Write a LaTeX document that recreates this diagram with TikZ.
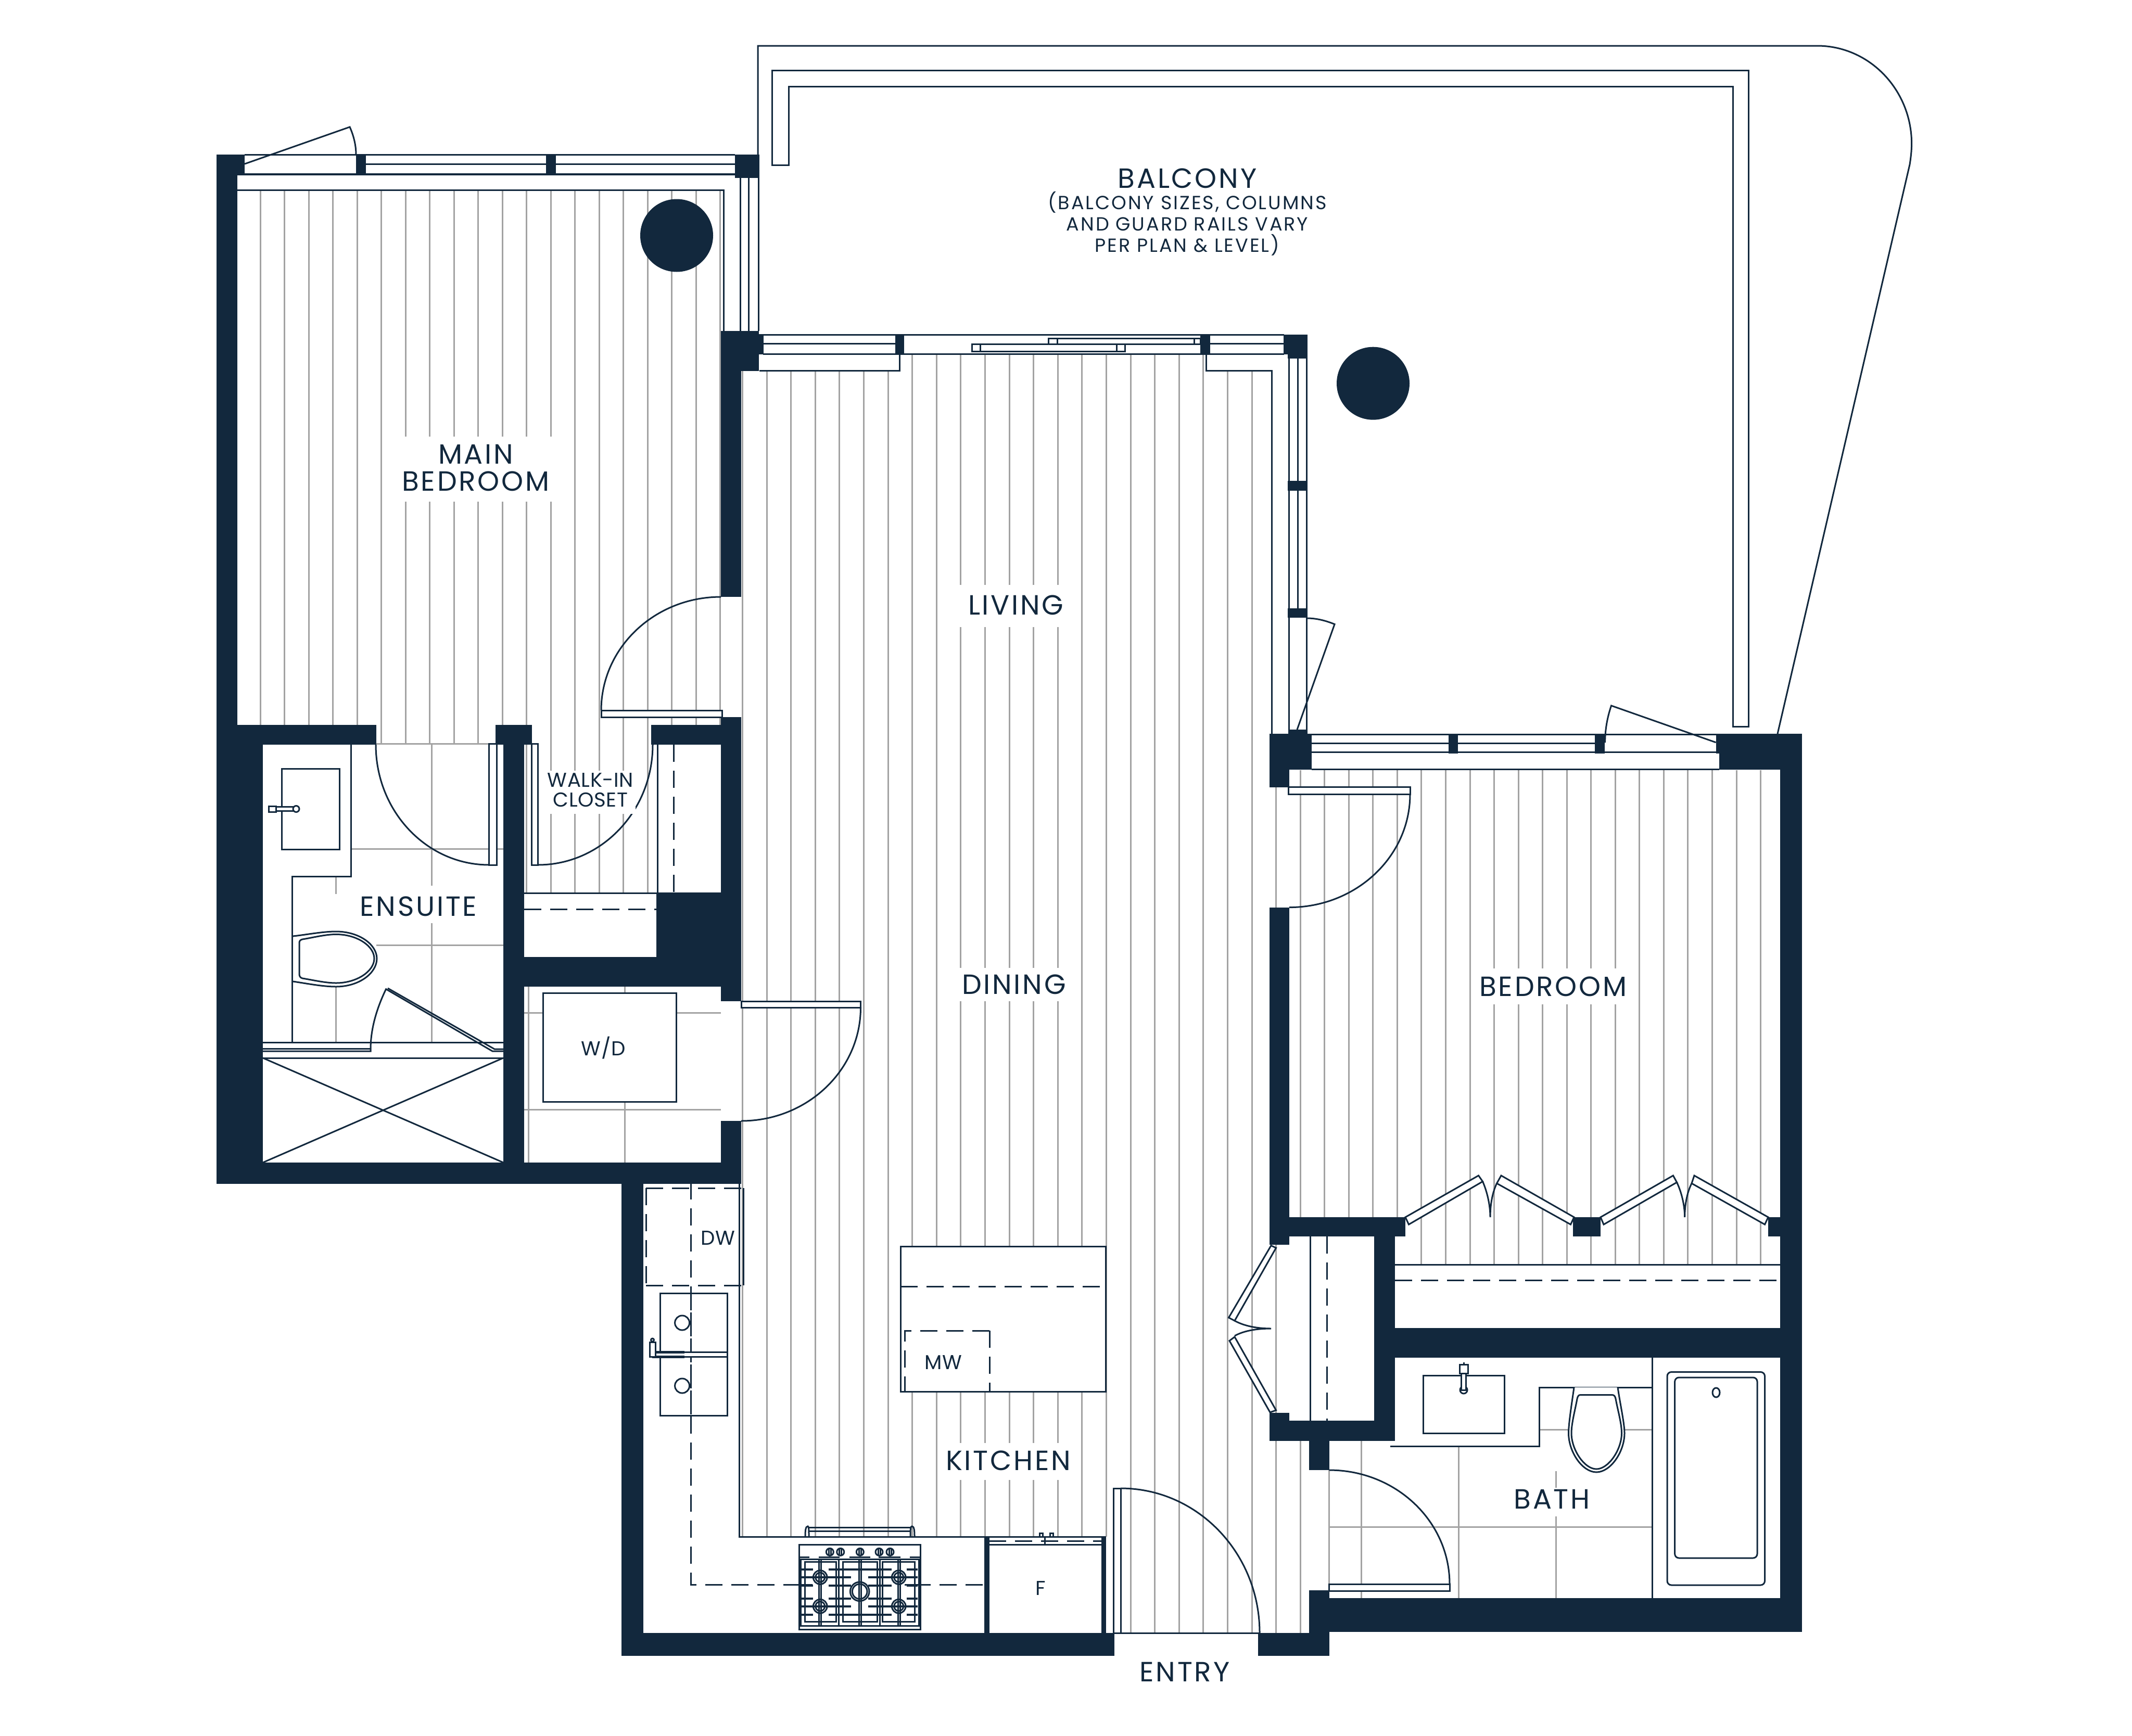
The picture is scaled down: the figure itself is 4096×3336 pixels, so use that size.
\documentclass[tikz,border=0pt]{standalone}
\usepackage{fontspec}
\setmainfont{Poppins}
\newfontfamily\roomfont{Poppins}[LetterSpace=7]
\newfontfamily\notefont{Poppins}[LetterSpace=8]
\newfontfamily\smallfont{Poppins}[LetterSpace=1.5]
\usetikzlibrary{calc}
\definecolor{wallblue}{HTML}{12283D}
\definecolor{woodgray}{HTML}{A3A3A3}
\tikzset{
	wall/.style={fill=wallblue},
	plan/.style={draw=wallblue,line width=0.03cm},
	tine/.style={draw=wallblue,line width=0.04cm},
	wood/.style={draw=woodgray,line width=0.03cm},
	leaf/.style={draw=wallblue,fill=white,line width=0.03cm},
	dashline/.style={draw=wallblue,line width=0.03cm,dash pattern=on 0.33cm off 0.17cm},
	roomlbl/.style={text=wallblue,inner sep=0pt,align=center,font=\roomfont\fontsize{15.2}{14.8}\selectfont},
	smalllbl/.style={text=wallblue,inner sep=0pt,align=center,font=\smallfont\fontsize{11}{10.6}\selectfont},
	notelbl/.style={text=wallblue,inner sep=0pt,align=center,font=\notefont\fontsize{10.4}{11.7}\selectfont}
}
%quarter swing, horizontal tangent at the first point, vertical at the second
\newcommand{\doorarc}[4]{\draw[plan] (#1,#2) .. controls ($(#1,#2)!0.5523!(#3,#2)$) and ($(#3,#4)!0.5523!(#3,#2)$) .. (#3,#4);}
\begin{document}
\begin{tikzpicture}[x=0.01cm,y=-0.01cm]
	\useasboundingbox (0,0) rectangle (4096,3336);

	%main bedroom boards
	\foreach \k in {0,...,4,10,17,18,19}
		\draw[wood] ({500.3+46.5*\k},366)--({500.3+46.5*\k},1393);
	\foreach \k in {5,...,9}
		\draw[wood] ({500.3+46.5*\k},366)--({500.3+46.5*\k},1429);
	\foreach \k in {11,...,16}
		\draw[wood] ({500.3+46.5*\k},366)--({500.3+46.5*\k},1716);
	\fill[white] (773,839) rectangle (1063,964);

	%living boards
	\foreach \k in {0,...,6}
		\draw[wood] ({1426.4+46.6*\k},712)--({1426.4+46.6*\k},2953);
	\foreach \k in {7,...,15}
		\draw[wood] ({1426.4+46.6*\k},681)--({1426.4+46.6*\k},2953);
	\foreach \k in {16,...,19}
		\draw[wood] ({1426.4+46.6*\k},681)--({1426.4+46.6*\k},3138);
	\foreach \k in {20,21}
		\draw[wood] ({1426.4+46.6*\k},712)--({1426.4+46.6*\k},3138);
	\draw[wood] (2451.6,1513)--(2451.6,3138);
	\draw[wood] (2498.2,2768)--(2498.2,3138);
	\fill[white] (1844,1124) rectangle (2040,1205);
	\fill[white] (1844,1860) rectangle (2040,1924);
	\fill[white] (1840,2773) rectangle (2040,2844);

	%bedroom boards
	\foreach \k in {1,...,5}
		\draw[wood] ({2451.6+46.55*\k},1480)--({2451.6+46.55*\k},2339);
	\foreach \k in {6,...,20}
		\draw[wood] ({2451.6+46.55*\k},1480)--({2451.6+46.55*\k},2430);
	\fill[white] (2865,1861) rectangle (3110,1930);

	%tiles
	\draw[wood] (723,1429)--(952,1429);
	\draw[wood] (674,1631.5)--(967,1631.5);
	\draw[wood] (723,1816)--(967,1816);
	\draw[wood] (829,1431)--(829,1702);
	\draw[wood] (829,1774)--(829,2003);
	\draw[wood] (645,1684)--(645,1718);
	\draw[wood] (645,1896)--(645,2003);
	\draw[wood] (1007,1946)--(1043,1946);
	\draw[wood] (1299,1946)--(1385,1946);
	\draw[wood] (1007,2132)--(1385,2132);
	\draw[wood] (1015,1896)--(1015,2234);
	\draw[wood] (1200,1896)--(1200,1908);
	\draw[wood] (1200,2117)--(1200,2234);
	\draw[wood] (2553,2825)--(2553,3044);
	\draw[wood] (2615.7,2768)--(2615.7,3071);
	\draw[wood] (2802,2779)--(2802,3071);
	\draw[wood] (2989,2827)--(2989,2859);
	\draw[wood] (2989,2914)--(2989,3071);
	\draw[wood] (2957,2747.4)--(3014,2747.4);
	\draw[wood] (3121,2747.4)--(3174,2747.4);
	\draw[wood] (2553,2934)--(3174,2934);

	%balcony
	\draw[plan] (1456,297)--(1456,88)--(3491,88) .. controls (3592.6,88) and (3672.6,174) .. (3672.6,276) .. controls (3672.6,290) and (3671,303) .. (3669,316)--(3415,1410);
	\draw[plan] (1483.6,317)--(1483.6,135.7)--(3359,135.7)--(3359,1396)--(3329,1396)--(3329,166.3)--(1515,166.3)--(1515,317)--cycle;

	%windows
	\draw[plan] (470,297)--(1412,297);
	\draw[plan] (703,315)--(1412,315);
	\draw[plan] (470,334)--(1412,334);
	\draw[plan] (456,335)--(1412,335);
	\draw[plan] (456,365)--(1390,365)--(1390,636);
	\draw[plan] (1422,342)--(1422,636);
	\draw[plan] (1438,342)--(1438,636);
	\draw[plan] (1457,297)--(1457,636);
	\draw[plan] (1466,643.4)--(2467,643.4);
	\draw[plan] (1466,660.7)--(1720,660.7);
	\draw[plan] (2325,660.7)--(2467,660.7);
	\draw[plan] (1466,680)--(2467,680);
	\draw[plan] (1459,712)--(1728,712)--(1728,680);
	\draw[plan] (2317,681)--(2317,712)--(2443.5,712)--(2443.5,1410);
	\draw[leaf] (2014,650) rectangle (2306,661);
	\draw[plan] (2031,650)--(2031,661);
	\draw[plan] (2294,650)--(2294,661);
	\draw[leaf] (1867,661) rectangle (2161,675);
	\draw[plan] (1883,661)--(1883,675);
	\draw[plan] (2145,661)--(2145,675);
	\draw[plan] (2476,689)--(2476,1410);
	\draw[plan] (2493,689)--(2493,1169);
	\draw[plan] (2510.5,689)--(2510.5,1410);
	\draw[plan] (2520,1411)--(3296.5,1411);
	\draw[plan] (2520,1428)--(3083,1428);
	\draw[plan] (2520,1445.7)--(3296.5,1445.7);
	\draw[plan] (2520,1478.5)--(3303,1478.5);

	%window doors
	\draw[plan] (470,315)--(672,244) .. controls (680,262) and (684,280) .. (684,297);
	\draw[plan] (2511,1188) .. controls (2530,1188) and (2548,1193) .. (2564,1199.5)--(2492,1402);
	\draw[plan] (3083.6,1427) .. controls (3083.6,1402) and (3088,1378) .. (3095.6,1356)--(3296.5,1426.7);

	%columns
	\fill[wall] (1300,452.5) circle (70);
	\fill[wall] (2638,736.7) circle (70);

	%ensuite
	\draw[plan] (674,1431)--(674,1684)--(561,1684)--(561,2003);
	\draw[plan] (541,1477) rectangle (652.5,1632);
	\draw[leaf] (566,1550) rectangle (530,1558);
	\draw[leaf] (516,1549) rectangle (530,1560);
	\draw[leaf] (569,1554.5) circle (6);
	\draw[plan,fill=white] (563,1799) .. controls (590,1796) and (620,1790) .. (645.5,1790) .. controls (690,1790) and (724,1815) .. (724,1842) .. controls (724,1870) and (690,1896) .. (645.5,1896) .. controls (620,1896) and (590,1890) .. (563,1886);
	\draw[plan] (581,1805) .. controls (600,1802) and (625,1795.5) .. (645.5,1795.5) .. controls (686,1795.5) and (719,1818) .. (719,1842) .. controls (719,1866) and (686,1889) .. (645.5,1889) .. controls (625,1889) and (600,1883) .. (581,1880) .. controls (577,1879) and (575,1876) .. (575,1872)--(575,1812) .. controls (575,1808) and (577,1806) .. (581,1805);
	\draw[plan] (505,2003)--(967,2003);
	\draw[plan] (505,2015)--(712,2015);
	\draw[plan] (505,2020)--(712,2020)--(712,2016) .. controls (712,1975) and (725,1935) .. (741.6,1900.7)--(946,2020)--(967,2020);
	\draw[plan] (745,1899)--(950,2016)--(967,2016);
	\draw[plan] (505,2033)--(967,2033);
	\draw[plan] (505,2033)--(967,2234);
	\draw[plan] (967,2033)--(505,2234);

	%closet and laundry
	\draw[plan] (1007,1716.5)--(1261,1716.5);
	\draw[dashline] (1007,1747)--(1261,1747);
	\draw[plan] (1263.5,1431)--(1263.5,1715);
	\draw[dashline] (1294,1431)--(1294,1715);
	\draw[plan] (1043,1908) rectangle (1299,2117);

	%doors
	\doorarc{1385}{1147}{1155}{1365}
	\doorarc{939.5}{1662}{722}{1431}
	\doorarc{1033.5}{1662}{1254}{1431}
	\doorarc{1424}{2154}{1653.5}{1936}
	\doorarc{2153}{2860}{2420}{3138}
	\doorarc{2553.5}{2825}{2785}{3044}
	\doorarc{2477}{1743.6}{2709}{1526}
	\draw[leaf] (1155,1365) rectangle (1387,1378);
	\draw[leaf] (939.5,1429) rectangle (954,1662);
	\draw[leaf] (1021,1429) rectangle (1033.5,1662);
	\draw[leaf] (1424,1924) rectangle (1653.5,1936);
	\draw[plan] (2139,3138)--(2139,2860)--(2153,2860)--(2153,3138);
	\draw[plan] (2141,3138)--(2420,3138);
	\draw[leaf] (2553,3044) rectangle (2785,3057);
	\draw[leaf] (2475,1512) rectangle (2709,1526);

	%kitchen
	\draw[plan] (1420,2275)--(1420,2953)--(2125,2953);
	\draw[dashline] (1327.5,2272)--(1327.5,3045)--(1891,3045);
	\draw[dashline] (1241,2283)--(1428.5,2283);
	\draw[dashline] (1241,2470)--(1428.5,2470);
	\draw[dashline] (1241,2283)--(1241,2470);
	\draw[plan] (1428.5,2283)--(1428.5,2470);
	\draw[plan] (1268,2485) rectangle (1397.6,2720);
	\draw[dashline] (1327.5,2485)--(1327.5,2720);
	\draw[plan] (1310.6,2542) circle (14);
	\draw[plan] (1310.6,2663) circle (14);
	\draw[leaf] (1253,2598) rectangle (1397.6,2607);
	\draw[plan,line width=0.05cm] (1253,2598)--(1315,2598);
	\draw[plan,line width=0.05cm] (1253,2607)--(1315,2607);
	\draw[leaf] (1248,2579) rectangle (1259,2607);
	\draw[leaf] (1253.5,2575) circle (3);
	\draw[leaf] (1730,2395) rectangle (2124,2674);
	\draw[dashline] (1730,2472.6)--(2124,2472.6);
	\draw[dashline] (1901,2557)--(1738.6,2557)--(1738.6,2674);
	\draw[dashline] (1901,2557)--(1901,2674);

	%range
	\draw[plan] (1553,2935.7)--(1750,2935.7);
	\draw[plan] (1553,2942)--(1750,2942);
	\draw[plan] (1547,2952) .. controls (1547,2940) and (1548,2933) .. (1552,2933) .. controls (1554,2933) and (1554,2940) .. (1554,2952);
	\draw[plan] (1749,2952) .. controls (1749,2940) and (1749,2933) .. (1752,2933) .. controls (1756,2933) and (1757,2940) .. (1757,2952);
	\draw[leaf] (1535,2968) rectangle (1768,3131);
	\foreach \x in {1594.3,1614.7,1652.3,1689,1710}{
		\draw[plan] (\x,2982.3) circle (7);
		\draw[plan] (\x-2,2976)--(\x-2,2988);
		\draw[plan] (\x+2,2976)--(\x+2,2988);
	}
	\draw[plan] (1535,2992)--(1555,2992);
	\draw[plan] (1573,2992)--(1613,2992);
	\draw[plan] (1632,2992)--(1672,2992);
	\draw[plan] (1688,2992)--(1730,2992);
	\draw[plan] (1748,2992)--(1768,2992);
	\draw[plan] (1538,2996) rectangle (1765,3124);
	\draw[plan] (1546.7,3001.7) rectangle (1606,3116.7);
	\draw[plan] (1619,3001.7) rectangle (1685,3116.7);
	\draw[plan] (1695.7,3001.7) rectangle (1757,3116.7);
	\foreach \x in {1573.3,1577.3,1611.7,1650,1654,1690,1725,1729}
		\draw[plan] (\x,2996)--(\x,3124);
	\foreach \y in {3015.7,3103.3}{
		\draw[tine] (1540,\y)--(1561.7,\y);
		\draw[tine] (1591.7,\y)--(1713.3,\y);
		\draw[tine] (1741.7,\y)--(1763.3,\y);
	}
	\foreach \y in {3046.7,3071.7}{
		\draw[tine] (1540,\y)--(1561.7,\y);
		\draw[tine] (1591.7,\y)--(1635,\y);
		\draw[tine] (1668.3,\y)--(1713.3,\y);
		\draw[tine] (1741.7,\y)--(1763.3,\y);
	}
	\foreach \y in {3031,3086.7}{
		\draw[tine] (1540,\y)--(1635,\y);
		\draw[tine] (1668.3,\y)--(1763.3,\y);
	}
	\foreach \x/\y in {1575.7/3031,1575.7/3086.7,1726.7/3031,1726.7/3086.7}{
		\draw[plan] (\x,\y) circle (13.3);
		\draw[plan] (\x,\y) circle (9);
	}
	\draw[plan] (1651.7,3058.3) circle (18.3);
	\draw[plan] (1651.7,3058.3) circle (14.3);
	\draw[plan] (1520,3045.7)--(1561,3045.7);
	\draw[plan] (1738,3045.7)--(1775,3045.7);

	%fridge
	\draw[dashline] (1900,2961)--(2116,2961);
	\draw[plan] (1900,2968)--(2116,2968);
	\draw[plan] (2007,2953)--(2007,2968);
	\draw[plan] (1997,2946) rectangle (2003,2953);
	\draw[plan] (2017,2946) rectangle (2023,2953);

	%bedroom closet
	\draw[plan] (2680,2430)--(3420,2430);
	\draw[dashline] (2680,2460.5)--(3420,2460.5);
	\draw[plan] (2517,2376)--(2517,2730);
	\draw[dashline] (2549,2376)--(2549,2730);
	\draw[leaf] (2700,2339)--(2840.5,2259)--(2848.5,2270.4)--(2706.5,2353)--cycle;
	\draw[leaf] (2875.6,2274)--(2884,2259)--(3024,2339)--(3017.5,2353)--cycle;
	\draw[leaf] (3075,2339)--(3214.4,2259)--(3221.5,2272)--(3081,2353)--cycle;
	\draw[leaf] (3250,2274)--(3255,2259)--(3397,2339)--(3390.5,2353)--cycle;
	\draw[plan] (2848.5,2270.4) .. controls (2857,2290) and (2863,2315) .. (2863,2339) .. controls (2863,2315) and (2867,2292) .. (2875.6,2274);
	\draw[plan] (3221.5,2272) .. controls (3230,2290) and (3236.7,2315) .. (3236.7,2339) .. controls (3236.7,2315) and (3241,2292) .. (3250,2274);
	\draw[leaf] (2442,2393.5)--(2451.5,2398)--(2372,2538)--(2360.6,2532)--cycle;
	\draw[leaf] (2362,2576.5)--(2372,2569)--(2451.5,2710)--(2440,2714)--cycle;
	\draw[plan] (2372,2538) .. controls (2390,2548) and (2415,2553) .. (2442,2553) .. controls (2415,2553) and (2390,2557) .. (2372,2567);

	%bath
	\draw[plan] (2671,2779)--(2957,2779)--(2957,2666)--(3174,2666);
	\draw[plan] (3174,2609)--(3174,3071);
	\draw[plan] (2734.5,2643.5) rectangle (2890,2754.5);
	\draw[plan,fill=white] (2812,2671) circle (7);
	\draw[leaf] (2807,2636) rectangle (2816.6,2671);
	\draw[leaf] (2804,2622) rectangle (2820,2639);
	\draw[plan] (2812,2618)--(2812,2622);
	\draw[plan,fill=white] (3024,2666) .. controls (3020,2695) and (3013.5,2735) .. (3013.5,2754) .. controls (3013.5,2790) and (3040,2829) .. (3067,2829) .. controls (3094,2829) and (3121,2790) .. (3121,2754) .. controls (3121,2735) and (3112,2695) .. (3108,2666);
	\draw[plan] (3036,2680.5)--(3097,2680.5) .. controls (3101,2680.5) and (3103,2683) .. (3104,2688) .. controls (3108,2710) and (3115.5,2735) .. (3115.5,2754) .. controls (3115.5,2786) and (3090,2823) .. (3067,2823) .. controls (3044,2823) and (3019,2786) .. (3019,2754) .. controls (3019,2735) and (3026,2710) .. (3030,2688) .. controls (3031,2683) and (3033,2680.5) .. (3036,2680.5);
	\draw[plan,rounded corners=0.08cm] (3203,2636.5) rectangle (3390.5,3046);
	\draw[plan,rounded corners=0.08cm] (3217.6,2647) rectangle (3376,2994);
	\draw[plan] (3297,2676) ellipse (7 and 9);

	%walls
	\fill[wall] (416,297) rectangle (456,1393);
	\fill[wall] (416,297) rectangle (470,335);
	\fill[wall] (684,297) rectangle (703,335);
	\fill[wall] (1049,297) rectangle (1068,335);
	\fill[wall] (1412,297) rectangle (1458,342);
	\fill[wall] (416,1393) rectangle (505,2275);
	\fill[wall] (416,1393) rectangle (723,1431);
	\fill[wall] (952,1393) rectangle (1022,1431);
	\fill[wall] (967,1393) rectangle (1007,2275);
	\fill[wall] (1251,1393) rectangle (1385,1431);
	\fill[wall] (1385,1378) rectangle (1424,1924);
	\fill[wall] (1261,1715) rectangle (1385,1839);
	\fill[wall] (1007,1839) rectangle (1385,1896);
	\fill[wall] (416,2234) rectangle (1424,2275);
	\fill[wall] (1385,2154) rectangle (1424,2275);
	\fill[wall] (1385,636) rectangle (1458,713);
	\fill[wall] (1458,642) rectangle (1467,681);
	\fill[wall] (1385,713) rectangle (1424,1147);
	\fill[wall] (1720,643) rectangle (1736.5,681);
	\fill[wall] (2306,643) rectangle (2325,681);
	\fill[wall] (2466,643) rectangle (2512,681);
	\fill[wall] (2474,681) rectangle (2512,689);
	\fill[wall] (2474,924) rectangle (2512,943);
	\fill[wall] (2474,1169) rectangle (2512,1186.5);
	\fill[wall] (2475,1402) rectangle (2511,1410);
	\fill[wall] (2439,1410) rectangle (2520,1479);
	\fill[wall] (2439,1410) rectangle (2477,1513);
	\fill[wall] (2783,1410) rectangle (2801.4,1448);
	\fill[wall] (3063.7,1410) rectangle (3083,1448);
	\fill[wall] (3296.5,1410) rectangle (3462,1448);
	\fill[wall] (3303,1410) rectangle (3462,1479);
	\fill[wall] (3420,1410) rectangle (3462,3136);
	\fill[wall] (2439,1743.6) rectangle (2477,2391.6);
	\fill[wall] (2439,2339) rectangle (2700,2376);
	\fill[wall] (2640,2339) rectangle (2680,2768.5);
	\fill[wall] (2439,2730) rectangle (2680,2768.5);
	\fill[wall] (2439,2715) rectangle (2477,2730);
	\fill[wall] (2515,2768) rectangle (2553.5,2825);
	\fill[wall] (2640,2552) rectangle (3420,2609);
	\fill[wall] (3022,2339) rectangle (3075,2376);
	\fill[wall] (3397,2339) rectangle (3420,2376);
	\fill[wall] (1194,2275) rectangle (1236,3182);
	\fill[wall] (1194,3138) rectangle (2141,3182);
	\fill[wall] (1891,2953) rectangle (1900.6,3138);
	\fill[wall] (2116,2953) rectangle (2125,3138);
	\fill[wall] (2417,3138) rectangle (2553.5,3182);
	\fill[wall] (2515,3055.5) rectangle (2553.5,3182);
	\fill[wall] (2553.5,3071) rectangle (3462,3136);

	%labels
	\fill[white] (1049,1481) rectangle (1221,1564);
	\node[roomlbl] (mainbed) at (914,899) {MAIN\\BEDROOM};
	\node[roomlbl] (balcony) at (2281,343) {BALCONY};
	\node[notelbl] (balconynote) at (2281,430) {(BALCONY SIZES, COLUMNS\\AND GUARD RAILS VARY\\PER PLAN \& LEVEL)};
	\node[roomlbl] (living) at (1951.7,1163) {LIVING};
	\node[roomlbl] (dining) at (1948,1892) {DINING};
	\node[roomlbl] (kitchen) at (1937,2807) {KITCHEN};
	\node[roomlbl] (bedroom) at (2984,1896) {BEDROOM};
	\node[roomlbl] (ensuite) at (804,1742) {ENSUITE};
	\node[roomlbl] (bath) at (2981.6,2881) {BATH};
	\node[roomlbl] (entry) at (2276,3213) {ENTRY};
	\node[smalllbl] (closet) at (1134.5,1518) {WALK-IN\\CLOSET};
	\node[smalllbl] (wd) at (1159,2014) {W/D};
	\node[smalllbl] (dw) at (1379,2379) {DW};
	\node[smalllbl] (mw) at (1812,2618) {MW};
	\node[smalllbl] (fridge) at (1999,3052) {F};
\end{tikzpicture}
\end{document}
